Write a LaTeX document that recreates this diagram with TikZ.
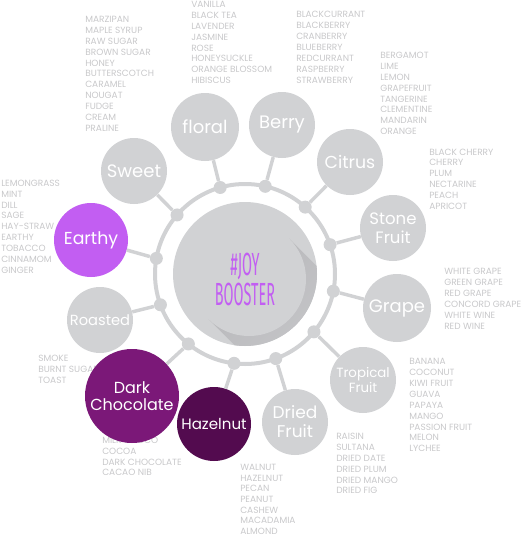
\documentclass[tikz,border=0pt]{standalone}
\usepackage{fontspec}
\usepackage{xcolor}
\usepackage{tikz}
\usetikzlibrary{calc}
\setmainfont{Poppins}
\newfontfamily\joyfont[FakeStretch=0.45]{Fira Sans}

\definecolor{wheelgray}{HTML}{D1D2D4}
\definecolor{listgray}{HTML}{C8C8CA}
\definecolor{shadowgray}{HTML}{B8B8BB}
\definecolor{earthyviolet}{HTML}{C25EF2}
\definecolor{darkchoc}{HTML}{7B1878}
\definecolor{hazelplum}{HTML}{530B4F}

\tikzset{
    flavor/.style={circle, fill=wheelgray, text=white, inner sep=0pt, align=center},
    ringdot/.style={circle, fill=wheelgray, inner sep=0pt, minimum size=9.75pt},
    ringline/.style={draw=wheelgray, line width=3pt},
    spoke/.style={draw=wheelgray, line width=2.6pt},
    flavortext/.style={anchor=base west, text=listgray, inner sep=0pt,
        font=\fontsize{6.75pt}{8pt}\selectfont},
    joy/.style={text=earthyviolet, inner sep=0pt,
        font=\joyfont\fontsize{24pt}{24pt}\selectfont},
}

\begin{document}
\begin{tikzpicture}[x=0.75pt, y=-0.75pt]
    \useasboundingbox (0,0) rectangle (526,536);

    % Danh sach huong vi
    \foreach \t [count=\i] in {MARZIPAN, MAPLE SYRUP, RAW SUGAR, BROWN SUGAR, HONEY,
        BUTTERSCOTCH, CARAMEL, NOUGAT, FUDGE, CREAM, PRALINE} {
        \node[flavortext] (sweet\i) at (85, {22.7+(\i-1)*10.85}) {\t};
    }
    \foreach \t [count=\i] in {VANILLA, BLACK TEA, LAVENDER, JASMINE, ROSE,
        HONEYSUCKLE, ORANGE BLOSSOM, HIBISCUS} {
        \node[flavortext] (floral\i) at (191, {7.7+(\i-1)*10.85}) {\t};
    }
    \foreach \t [count=\i] in {BLACKCURRANT, BLACKBERRY, CRANBERRY, BLUEBERRY,
        REDCURRANT, RASPBERRY, STRAWBERRY} {
        \node[flavortext] (berry\i) at (296, {17.9+(\i-1)*10.85}) {\t};
    }
    \foreach \t [count=\i] in {BERGAMOT, LIME, LEMON, GRAPEFRUIT, TANGERINE,
        CLEMENTINE, MANDARIN, ORANGE} {
        \node[flavortext] (citrus\i) at (380, {58.9+(\i-1)*10.8}) {\t};
    }
    \foreach \t [count=\i] in {BLACK CHERRY, CHERRY, PLUM, NECTARINE, PEACH, APRICOT} {
        \node[flavortext] (stone\i) at (429, {155+(\i-1)*10.95}) {\t};
    }
    \foreach \t [count=\i] in {WHITE GRAPE, GREEN GRAPE, RED GRAPE, CONCORD GRAPE,
        WHITE WINE, RED WINE} {
        \node[flavortext] (grape\i) at (444, {274.9+(\i-1)*10.87}) {\t};
    }
    \foreach \t [count=\i] in {BANANA, COCONUT, KIWI FRUIT, GUAVA, PAPAYA, MANGO,
        PASSION FRUIT, MELON, LYCHEE} {
        \node[flavortext] (tropical\i) at (409, {364.9+(\i-1)*10.87}) {\t};
    }
    \foreach \t [count=\i] in {RAISIN, SULTANA, DRIED DATE, DRIED PLUM, DRIED MANGO,
        DRIED FIG} {
        \node[flavortext] (dried\i) at (336, {439.9+(\i-1)*10.8}) {\t};
    }
    \foreach \t [count=\i] in {WALNUT, HAZELNUT, PECAN, PEANUT, CASHEW, MACADAMIA,
        ALMOND} {
        \node[flavortext] (nut\i) at (240, {470.7+(\i-1)*10.62}) {\t};
    }
    \foreach \t [count=\i] in {MILK CHOCO, COCOA, DARK CHOCOLATE, CACAO NIB} {
        \node[flavortext] (choc\i) at (102, {443.5+(\i-1)*10.8}) {\t};
    }
    \foreach \t [count=\i] in {SMOKE, BURNT SUGAR, TOAST} {
        \node[flavortext] (roast\i) at (38, {361.5+(\i-1)*10.85}) {\t};
    }
    \foreach \t [count=\i] in {LEMONGRASS, MINT, DILL, SAGE, HAY-STRAW, EARTHY,
        TOBACCO, CINNAMOM, GINGER} {
        \node[flavortext] (earth\i) at (1, {186.5+(\i-1)*10.83}) {\t};
    }

    % Vong tron giua
    \node[circle, fill=wheelgray, minimum size=108pt, inner sep=0pt] (hub) at (245,274) {};
    \begin{scope}
        \clip (hub.center) circle (72);
        \shade[top color=shadowgray, bottom color=wheelgray, shading angle=45]
            (289.3,238.7) -- (409.3,358.7) -- (328.7,439.3) -- (208.7,319.3) -- cycle;
    \end{scope}
    \node[circle, fill=wheelgray, minimum size=85.5pt, inner sep=0pt] (hubtop) at (249,279) {};
    \node[joy] (joy) at (245,266) {\#JOY};
    \node[joy] (booster) at (245,294) {BOOSTER};

    % Vanh va cac diem noi
    \draw[ringline] (hub.center) circle (90);
    \foreach \a [count=\i] in {-106,-77,-48,-19,11,40,70,97,129,160,190,221} {
        \node[ringdot] (dot\i) at ($(hub.center)+(\a:90)$) {};
    }

    % Cac nhom huong
    \node[flavor, minimum size=51pt, font=\fontsize{13.5pt}{15pt}\selectfont] (floral) at (205,127) {floral};
    \node[flavor, minimum size=49.5pt, font=\fontsize{13.5pt}{15pt}\selectfont] (berry) at (282,125) {Berry};
    \node[flavor, minimum size=49.5pt, font=\fontsize{13pt}{15pt}\selectfont] (citrus) at (350,162) {Citrus};
    \node[flavor, minimum size=49.5pt, font=\fontsize{12.4pt}{14.25pt}\selectfont] (stone) at (393,228) {Stone\\Fruit};
    \node[flavor, minimum size=51pt, font=\fontsize{13.5pt}{15pt}\selectfont] (grape) at (397,308) {Grape};
    \node[flavor, minimum size=49.5pt, font=\fontsize{10pt}{11.25pt}\selectfont] (tropical) at (363,380) {Tropical\\Fruit};
    \node[flavor, minimum size=49.5pt, font=\fontsize{12.75pt}{14.25pt}\selectfont] (driedfruit) at (295,422) {Dried\\Fruit};
    \node[flavor, fill=darkchoc, minimum size=70.5pt, font=\fontsize{12pt}{12.75pt}\selectfont] (darkchoc) at (132,396) {Dark\\Chocolate};
    \node[flavor, fill=hazelplum, minimum size=55.5pt, font=\fontsize{11.3pt}{13pt}\selectfont] (hazelnut) at (214,424) {Hazelnut};
    \node[flavor, minimum size=49.5pt, font=\fontsize{11pt}{13pt}\selectfont] (roasted) at (100,320) {Roasted};
    \node[flavor, fill=earthyviolet, minimum size=55.5pt, font=\fontsize{13pt}{15pt}\selectfont] (earthy) at (91,240) {Earthy};
    \node[flavor, minimum size=49.5pt, font=\fontsize{13.5pt}{15pt}\selectfont] (sweet) at (134,171) {Sweet};

    % Noi diem voi nhom
    \foreach \i/\c in {1/floral, 2/berry, 3/citrus, 4/stone, 5/grape, 6/tropical,
        7/driedfruit, 8/hazelnut, 9/darkchoc, 10/roasted, 11/earthy, 12/sweet} {
        \draw[spoke] (dot\i) -- (\c);
    }
\end{tikzpicture}
\end{document}
